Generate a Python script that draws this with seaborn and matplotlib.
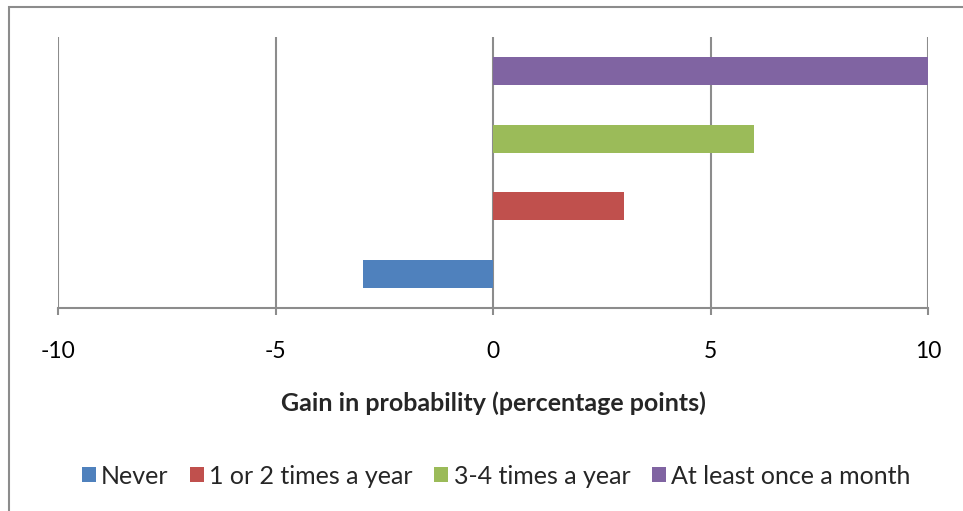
import matplotlib
matplotlib.use("Agg")
import matplotlib.pyplot as plt
from matplotlib.patches import Rectangle, Patch
import seaborn as sns
import pandas as pd

categories = ["At least once a month", "3-4 times a year", "1 or 2 times a year", "Never"]
gains = [10, 6, 3, -3]
legend_order = ["Never", "1 or 2 times a year", "3-4 times a year", "At least once a month"]
colors = {"Never": "#4F81BD", "1 or 2 times a year": "#C0504D",
          "3-4 times a year": "#9BBB59", "At least once a month": "#8064A2"}
xticks = [-10, -5, 0, 5, 10]

sns.set_theme(style="white")
plt.rcParams["font.family"] = ["Lato", "DejaVu Sans"]

df = pd.DataFrame({"category": categories, "gain": gains})

fig = plt.figure(figsize=(9.63, 5.11), dpi=100)
W, H = 963, 511
ax = fig.add_axes([58 / W, 1 - 308 / H, (928 - 58) / W, (308 - 37) / H])

sns.barplot(data=df, x="gain", y="category", hue="category", order=categories,
            palette=colors, dodge=False, width=0.41, orient="h", ax=ax,
            legend=False, saturation=1, linewidth=0, edgecolor="none")

ax.set_xlim(-10, 10)
ax.set_ylim(3.5, -0.5)
ax.set_xticks(xticks)
ax.set_xticklabels([str(t) for t in xticks], fontsize=16.5)
ax.set_yticks([])
ax.set_ylabel("")
ax.set_xlabel("Gain in probability (percentage points)", fontsize=18, fontweight="bold")
ax.xaxis.set_label_coords(0.5, (308 - 403) / (308 - 37))
ax.xaxis.label.set_va("center")

# vertical gridlines and the bottom axis line in grey
grid_color = "#8C8C8C"
for t in xticks:
    ax.axvline(t, color=grid_color, lw=1.5, zorder=0)
for s in ["top", "right", "left"]:
    ax.spines[s].set_visible(False)
ax.spines["bottom"].set_color(grid_color)
ax.spines["bottom"].set_linewidth(1.5)
ax.tick_params(axis="x", direction="out", length=5, width=1.5, color=grid_color,
               pad=19, bottom=True, labelcolor="black")

handles = [Patch(facecolor=colors[c], edgecolor="none") for c in legend_order]
fig.legend(handles, legend_order, loc="center", bbox_to_anchor=(496 / W, 1 - 476 / H),
           ncol=4, frameon=False, fontsize=18, handlelength=0.56, handleheight=0.56,
           handletextpad=0.22, columnspacing=0.85)

# chart frame
fig.patches.append(Rectangle((9 / W, -0.05), 1.1, 1 - 7 / H + 0.05, transform=fig.transFigure,
                             fill=False, edgecolor="#8C8C8C", lw=1.5))

fig.savefig("out.png", dpi=100)
